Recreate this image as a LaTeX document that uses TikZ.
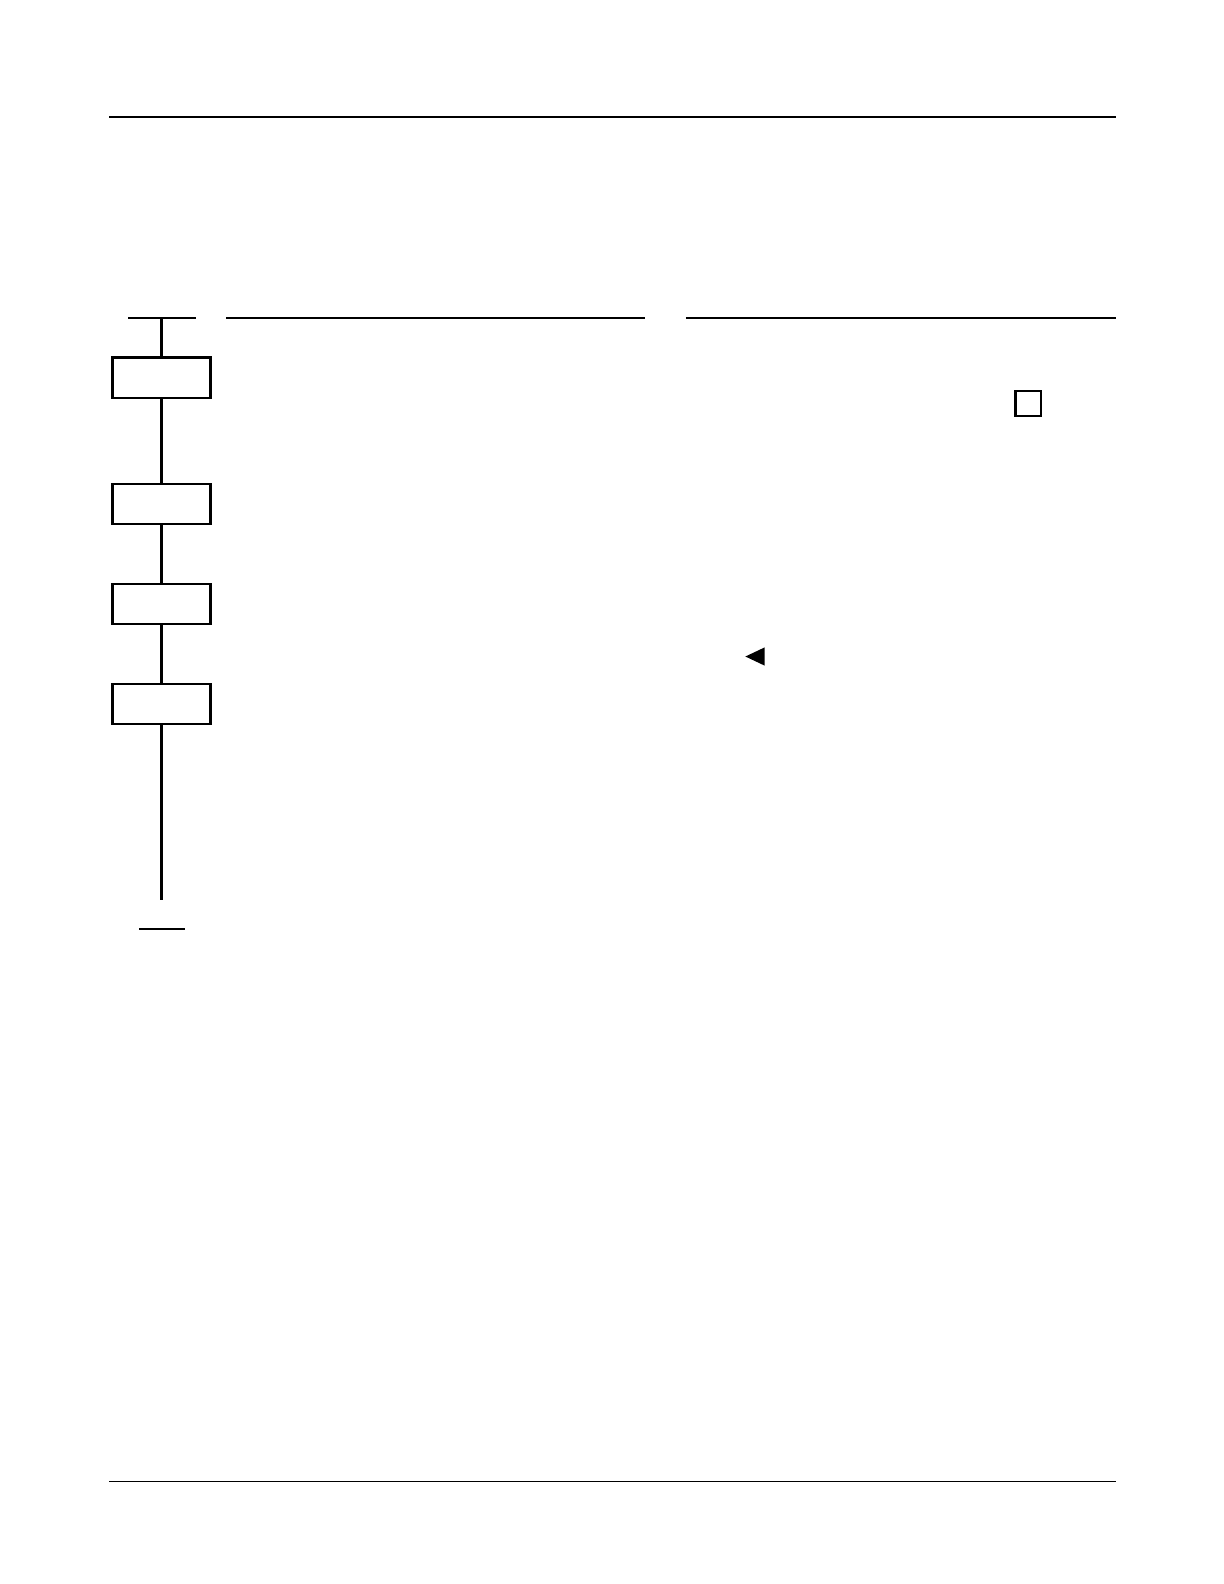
\documentclass[tikz,border=0pt]{standalone}
\usepackage{tikz}
\usetikzlibrary{positioning}

\tikzset{
  stepbox/.style={draw, line width=1.2bp, minimum width=49bp, minimum height=20.2bp, inner sep=0pt},
  flow/.style={line width=1.2bp},
  rule/.style={line width=0.7bp}
}

\begin{document}
\begin{tikzpicture}[x=0.505bp,y=-0.505bp]
        \useasboundingbox (0,0) rectangle (612bp,-792bp);

        \draw[rule] (108,116) -- (1105,116);
        \draw[rule] (108,1467) -- (1105,1467);

        \draw[flow] (127,315) -- (194,315);
        \draw[flow] (224,315) -- (639,315);
        \draw[flow] (679,315) -- (1105,315);

        \coordinate (top) at (160,315);
        \node[stepbox] (s1) at (160,374) {};
        \node[stepbox] (s2) at (160,499) {};
        \node[stepbox] (s3) at (160,598) {};
        \node[stepbox] (s4) at (160,697) {};
        \coordinate (bot) at (160,891);

        \draw[flow] (top) -- (s1);
        \draw[flow] (s1) -- (s2);
        \draw[flow] (s2) -- (s3);
        \draw[flow] (s3) -- (s4);
        \draw[flow] (s4) -- (bot);

        \draw[flow] (138,920) -- (183,920);

        \node[draw, line width=1.2bp, minimum size=12.6bp, inner sep=0pt] (chk) at (1018,399.5) {};
        \fill (757,641) -- (757,659) -- (738,650) -- cycle;
    \end{tikzpicture}
\end{document}
